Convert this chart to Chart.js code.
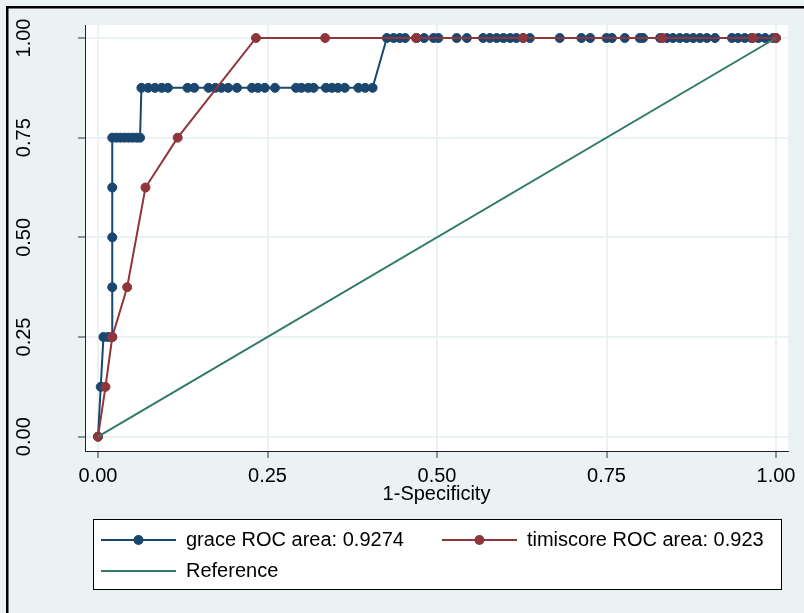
<!DOCTYPE html>
<html>
<head>
<meta charset="utf-8">
<script src="https://cdn.jsdelivr.net/npm/chart.js@4.4.1/dist/chart.umd.min.js"></script>
<style>
html,body{margin:0;padding:0;background:#EAF2F3;overflow:hidden}
#wrap{width:804px;height:613px;position:relative}
</style>
</head>
<body>
<div id="wrap"><canvas id="c" width="804" height="613"></canvas></div>
<script>
// ---- data ----
const tickValues = [0, 0.25, 0.5, 0.75, 1];
const tickLabels = ["0.00", "0.25", "0.50", "0.75", "1.00"];
const xTitle = "1-Specificity";
const seriesNames = ["grace ROC area: 0.9274", "timiscore ROC area: 0.923", "Reference"];

const graceX = [0, 0.004, 0.008, 0.015, 0.021, 0.021, 0.021, 0.021, 0.021,
  0.027, 0.033, 0.039, 0.045, 0.051, 0.057, 0.062,
  0.064, 0.074, 0.084, 0.094, 0.103, 0.132, 0.142,
  0.163, 0.173, 0.182, 0.192, 0.205, 0.227, 0.236, 0.246, 0.261,
  0.292, 0.300, 0.310, 0.318, 0.336, 0.345, 0.354, 0.364, 0.384, 0.394, 0.405,
  0.426, 0.436, 0.445, 0.453, 0.470, 0.481, 0.495, 0.502, 0.529, 0.544,
  0.568, 0.578, 0.588, 0.598, 0.608, 0.617, 0.627, 0.637, 0.681, 0.713, 0.726,
  0.750, 0.758, 0.777, 0.799, 0.804, 0.829, 0.839, 0.848, 0.858, 0.868, 0.878,
  0.888, 0.898, 0.910, 0.935, 0.944, 0.954, 0.964, 0.974, 0.984, 0.996, 1.0];
const graceY = [0, 0.125, 0.25, 0.25, 0.25, 0.375, 0.5, 0.625, 0.75,
  0.75, 0.75, 0.75, 0.75, 0.75, 0.75, 0.75,
  0.875, 0.875, 0.875, 0.875, 0.875, 0.875, 0.875,
  0.875, 0.875, 0.875, 0.875, 0.875, 0.875, 0.875, 0.875, 0.875,
  0.875, 0.875, 0.875, 0.875, 0.875, 0.875, 0.875, 0.875, 0.875, 0.875, 0.875,
  1, 1, 1, 1, 1, 1, 1, 1, 1, 1,
  1, 1, 1, 1, 1, 1, 1, 1, 1, 1, 1,
  1, 1, 1, 1, 1, 1, 1, 1, 1, 1, 1,
  1, 1, 1, 1, 1, 1, 1, 1, 1, 1, 1];

const timiX = [0, 0.011, 0.021, 0.043, 0.070, 0.1175, 0.233, 0.335, 0.469, 0.627, 0.832, 0.966, 1];
const timiY = [0, 0.125, 0.25, 0.375, 0.625, 0.75, 1, 1, 1, 1, 1, 1, 1];

const refX = [0, 1];
const refY = [0, 1];

// ---- styling ----
const NAVY = '#1A476F';
const MAROON = '#90353B';
const TEAL = '#2F7A69';
const BG = '#EAF2F3';

Chart.defaults.font.family = "'Liberation Sans', Arial, sans-serif";
Chart.defaults.font.size = 20;
Chart.defaults.color = '#000';

function toPoints(xs, ys) { return xs.map((x, i) => ({ x: x, y: ys[i] })); }

function legendSymbol(color, withDot) {
  const c = document.createElement('canvas');
  c.width = 102; c.height = 14;
  const g = c.getContext('2d');
  g.strokeStyle = color; g.lineWidth = 2;
  g.beginPath(); g.moveTo(27, 7); g.lineTo(102, 7); g.stroke();
  if (withDot) {
    g.fillStyle = color;
    g.beginPath(); g.arc(64.5, 7, 5, 0, Math.PI * 2); g.fill();
  }
  return c;
}
const symbols = [legendSymbol(NAVY, true), legendSymbol(MAROON, true), legendSymbol(TEAL, false)];

const bgPlugin = {
  id: 'bgPlugin',
  afterLayout(chart) {
    // legend box sits inset from the left edge, like the reference
    chart.legend.left = 63;
  },
  beforeDraw(chart) {
    const { ctx, chartArea: a, legend } = chart;
    ctx.save();
    ctx.fillStyle = BG;
    ctx.fillRect(0, 0, chart.width, chart.height);
    ctx.fillStyle = '#000';
    ctx.fillRect(6, 6, chart.width, 2.5);
    ctx.fillRect(6, 6, 2.5, chart.height);
    ctx.fillStyle = '#fff';
    ctx.fillRect(a.left, a.top, a.right - a.left, a.bottom - a.top);
    const lx = legend.left + 30, ly = legend.top, lw = legend.right - 7 - lx, lh = 70;
    ctx.fillRect(lx, ly, lw, lh);
    ctx.strokeStyle = '#000'; ctx.lineWidth = 1;
    ctx.strokeRect(lx + 0.5, ly + 0.5, lw, lh);
    ctx.restore();
  }
};

function tickSetter(s) { s.ticks = tickValues.map(v => ({ value: v })); }

new Chart(document.getElementById('c'), {
  type: 'scatter',
  data: {
    datasets: [
      { label: seriesNames[0], data: toPoints(graceX, graceY), showLine: true,
        borderColor: NAVY, backgroundColor: NAVY, borderWidth: 2,
        pointRadius: 4.5, pointBorderWidth: 1, pointHoverRadius: 4.5, order: 3 },
      { label: seriesNames[1], data: toPoints(timiX, timiY), showLine: true,
        borderColor: MAROON, backgroundColor: MAROON, borderWidth: 2,
        pointRadius: 4.5, pointBorderWidth: 1, pointHoverRadius: 4.5, order: 2 },
      { label: seriesNames[2], data: toPoints(refX, refY), showLine: true,
        borderColor: TEAL, backgroundColor: TEAL, borderWidth: 2,
        pointRadius: 0, pointHoverRadius: 0, order: 1 }
    ]
  },
  options: {
    responsive: false,
    animation: false,
    events: [],
    layout: { padding: { left: 0, right: 16, top: 25, bottom: 22 } },
    scales: {
      x: {
        type: 'linear', position: 'bottom', min: -0.0192, max: 1.0177,
        afterBuildTicks: tickSetter,
        afterFit(s) { s.height = 68; s.paddingLeft = 0; s.paddingRight = 0; },
        ticks: { callback: (v, i) => tickLabels[i], padding: 6, maxRotation: 0, autoSkip: false, color: '#000' },
        grid: { color: BG, lineWidth: 2, tickColor: '#333', tickLength: 7, tickWidth: 1 },
        border: { display: true, color: '#222', width: 1 },
        title: { display: true, text: xTitle, color: '#000', font: { size: 20 }, padding: { top: 0, bottom: 13 } }
      },
      y: {
        type: 'linear', position: 'left', min: -0.0359, max: 1.0326,
        afterBuildTicks: tickSetter,
        afterFit(s) { s.width = 85; s.paddingTop = 0; s.paddingBottom = 0; },
        ticks: { callback: (v, i) => tickLabels[i], padding: 34.5, minRotation: 90, maxRotation: 90,
                 crossAlign: 'center', autoSkip: false, color: '#000' },
        grid: { color: BG, lineWidth: 2, tickColor: '#333', tickLength: 7, tickWidth: 1 },
        border: { display: true, color: '#222', width: 1 }
      }
    },
    plugins: {
      tooltip: { enabled: false },
      legend: {
        position: 'bottom', align: 'start',
        labels: {
          usePointStyle: true, pointStyleWidth: 102, padding: 11, color: '#000', font: { size: 20 },
          generateLabels(chart) {
            const items = Chart.defaults.plugins.legend.labels.generateLabels(chart);
            items.sort((a, b) => a.datasetIndex - b.datasetIndex);
            items.forEach(it => { it.pointStyle = symbols[it.datasetIndex]; });
            return items;
          }
        }
      }
    }
  },
  plugins: [bgPlugin]
});
</script>
</body>
</html>
